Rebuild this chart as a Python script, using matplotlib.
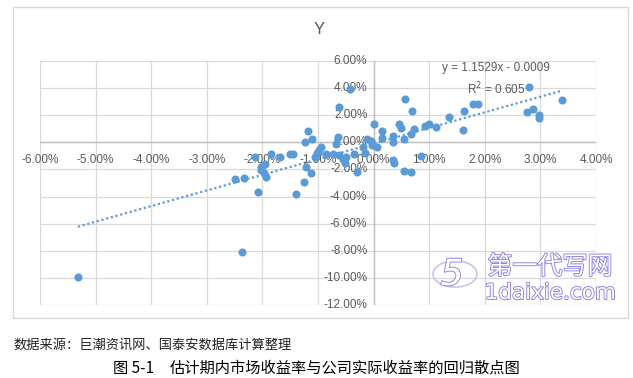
import matplotlib
matplotlib.use("Agg")
import matplotlib.pyplot as plt
import matplotlib.patheffects as pe
from matplotlib.patches import Rectangle, Circle

# market return (x) and firm actual return (y), in percent
market_ret = [-5.32, -2.36, -2.08, -1.40, -2.49, -2.33, -2.03, -1.99, -1.93, -1.98,
              -2.02, -2.13, -1.96, -1.84, -1.69, -1.50, -1.45, -1.25, -1.22, -1.12,
              -1.24, -1.18, -1.11, -1.02, -0.95, -0.86, -1.06, -0.99, -0.73, -0.68,
              -0.64, -0.62, -0.43, -0.63, -0.55, -0.50, -0.52, -0.35, -0.30, -0.19,
              -0.12, -0.15, -0.05, -0.02, 0.06, 0.00, 0.16, 0.16, 0.34, 0.34,
              0.34, 0.36, 0.45, 0.49, 0.54, 0.57, 0.54, 0.68, 0.69, 0.67,
              0.72, 0.85, 0.92, 0.99, 1.12, 1.36, 1.60, 1.62, 1.79, 1.87,
              2.79, 2.76, 2.87, 2.97, 2.98, 3.39]
firm_ret = [-9.93, -8.10, -3.69, -3.79, -2.68, -2.60, -2.04, -1.67, -2.53, -2.28,
            -1.85, -1.10, -1.59, -0.85, -1.05, -0.85, -0.85, -2.93, -1.84, -2.23,
            0.04, 0.83, 0.24, -0.75, -0.35, -0.85, -1.05, -0.60, -0.85, -0.11,
            0.39, 2.61, 3.95, -0.92, -1.25, -1.05, -1.49, -0.85, -2.21, -0.31,
            0.24, -0.75, 0.07, -0.18, -0.38, 1.33, 0.86, 0.31, 0.49, 0.04,
            -1.34, -1.52, 1.38, 1.03, 0.24, 3.16, -2.09, -2.21, 2.32, 0.63,
            0.98, -1.00, 1.23, 1.38, 1.10, 1.87, 0.93, 2.29, 2.81, 2.86,
            4.05, 2.22, 2.46, 2.04, 1.82, 3.11]

slope = 1.1529
intercept = -0.0009 * 100  # percent units

x_ticks = [-6, -5, -4, -3, -2, -1, 0, 1, 2, 3, 4]
y_ticks = [6, 4, 2, 0, -2, -4, -6, -8, -10, -12]

blue = "#5B9BD5"
grey_txt = "#595959"
cjk = ["Noto Sans CJK SC", "DejaVu Sans"]

fig = plt.figure(figsize=(6.33, 3.78), dpi=100)

# chart area border
fig.patches.append(Rectangle((13 / 633, 1 - 318 / 378), 615 / 633, 311 / 378,
                             transform=fig.transFigure, fill=False,
                             edgecolor="#D9D9D9", linewidth=1))

ax = fig.add_axes([40 / 633, 1 - 305 / 378, 556 / 633, 244 / 378])
ax.set_xlim(-6, 4)
ax.set_ylim(-12, 6)
for s in ax.spines.values():
    s.set_visible(False)
ax.set_xticks(x_ticks)
ax.set_yticks(y_ticks)
ax.tick_params(length=0, labelbottom=False, labelleft=False)
ax.grid(True, color="#D9D9D9", linewidth=0.9)
ax.set_axisbelow(True)
ax.axhline(0, color="#BFBFBF", linewidth=1, zorder=1)
ax.axvline(0, color="#BFBFBF", linewidth=1, zorder=1)

for t in x_ticks:
    ax.annotate(f"{t:.2f}%", (t, 0), xytext=(0, -12.5), textcoords="offset points",
                ha="center", va="center", fontsize=8.5, color=grey_txt,
                family="Liberation Sans", annotation_clip=False)
for t in y_ticks:
    ax.annotate(f"{t:.2f}%", (0, t), xytext=(-4.5, 0), textcoords="offset points",
                ha="right", va="center", fontsize=8.5, color=grey_txt,
                family="Liberation Sans", annotation_clip=False)

ax.scatter(market_ret, firm_ret, s=34, color=blue, zorder=3, linewidths=0)

x0, x1 = min(market_ret), max(market_ret)
ax.plot([x0, x1], [slope * x0 + intercept, slope * x1 + intercept],
        linestyle=(0, (1, 1.2)), color=blue, linewidth=1.6, zorder=2)

ax.text(2.2, 4.65, "y = 1.1529x - 0.0009\nR$^2$ = 0.605", ha="center", va="center",
        fontsize=8.5, color=grey_txt, family="Liberation Sans", linespacing=1.5)

fig.text(319 / 633, 1 - 29 / 378, "Y", ha="center", va="center", fontsize=12,
         color=grey_txt, family="Liberation Sans")

# watermark
wm = [pe.Stroke(linewidth=1.3, foreground="#8A80DE"), pe.Normal()]
fig.patches.append(Circle((455 / 633, 1 - 274 / 378), 22 / 633, transform=fig.transFigure,
                          fill=False, edgecolor="#C9C3EE", linewidth=1.2))
fig.text(452 / 633, 1 - 275 / 378, "5", ha="center", va="center", fontsize=26,
         color="white", family="DejaVu Sans", path_effects=wm, style="italic")
fig.text(550 / 633, 1 - 267 / 378, "第一代写网", ha="center", va="center",
         fontsize=18, color="white", family=cjk, path_effects=wm)
fig.text(550 / 633, 1 - 293 / 378, "1daixie.com", ha="center", va="center",
         fontsize=15.5, color="white", family="DejaVu Sans", path_effects=wm)

fig.text(13 / 633, 1 - 345 / 378, "数据来源：巨潮资讯网、国泰安数据库计算整理",
         ha="left", va="center", fontsize=9.5, color="#222222", family=cjk)
fig.text(113 / 633, 1 - 368 / 378, "图 5-1", ha="left", va="center",
         fontsize=11, color="black", family=cjk)
fig.text(521 / 633, 1 - 368 / 378, "估计期内市场收益率与公司实际收益率的回归散点图",
         ha="right", va="center", fontsize=11, color="black", family=cjk)

fig.savefig("out.png", dpi=100)
